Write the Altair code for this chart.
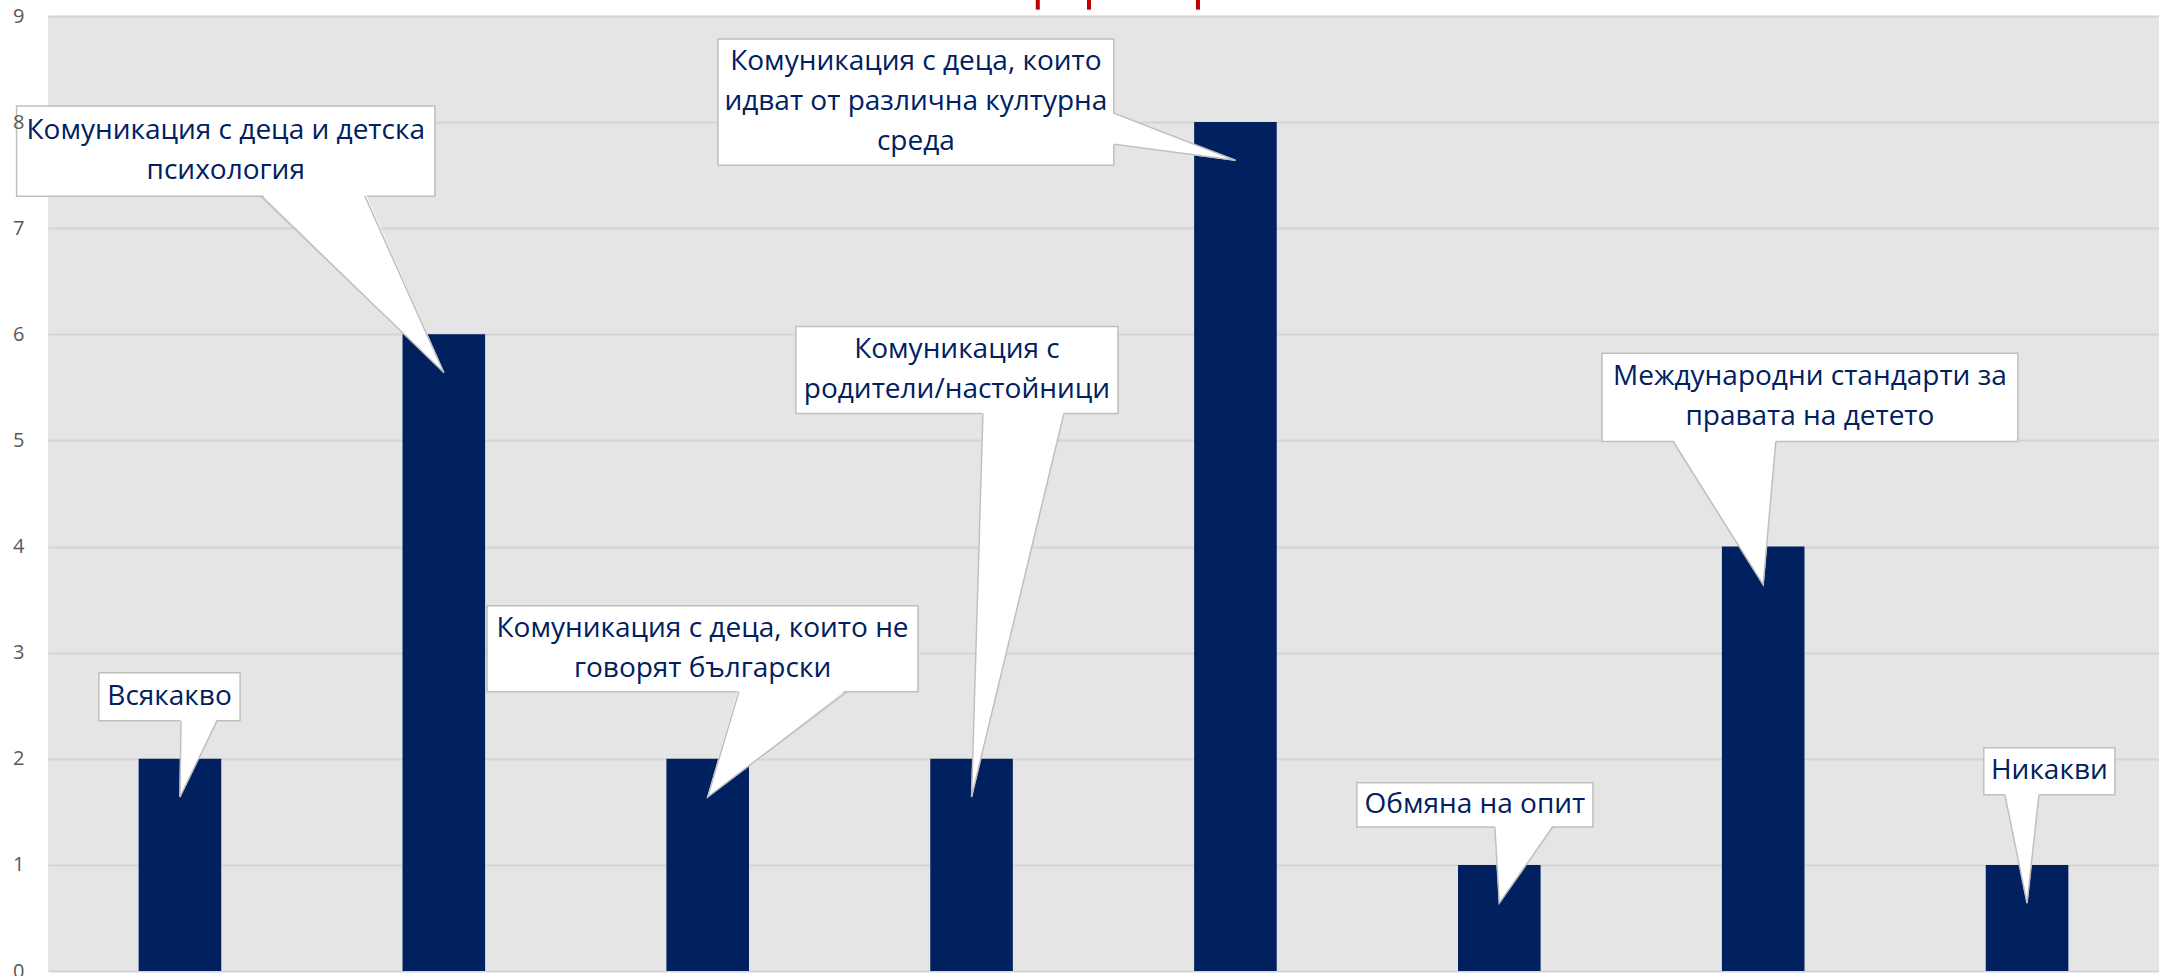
import altair as alt
import pandas as pd

# ---------------- data ----------------
categories = [
    "Всякакво",
    "Комуникация с деца и детска психология",
    "Комуникация с деца, които не говорят български",
    "Комуникация с родители/настойници",
    "Комуникация с деца, които идват от различна културна среда",
    "Обмяна на опит",
    "Международни стандарти за правата на детето",
    "Никакви",
]
values = [2, 6, 2, 2, 8, 1, 4, 1]
callout_text = [
    "Всякакво",
    "Комуникация с деца и детска\nпсихология",
    "Комуникация с деца, които не\nговорят български",
    "Комуникация с\nродители/настойници",
    "Комуникация с деца, които\nидват от различна културна\nсреда",
    "Обмяна на опит",
    "Международни стандарти за\nправата на детето",
    "Никакви",
]
y_ticks = [0, 1, 2, 3, 4, 5, 6, 7, 8, 9]

# ---------------- callout layout (in data units) ----------------
box_left = [0.193, -0.119, 1.664, 2.834, 2.539, 4.960, 5.889, 7.336]
box_right = [0.728, 1.466, 3.297, 4.055, 4.039, 5.855, 7.465, 7.833]
box_bottom = [2.358, 7.302, 2.632, 5.255, 7.594, 1.358, 4.991, 1.660]
box_top = [2.811, 8.151, 3.443, 6.075, 8.783, 1.774, 5.821, 2.104]
ptr_a = [(0.504, 2.358), (0.807, 7.302), (2.618, 2.632), (3.543, 5.255),
         (4.039, 8.085), (5.483, 1.358), (6.158, 4.991), (7.416, 1.660)]
ptr_b = [(0.641, 2.358), (1.201, 7.302), (3.028, 2.632), (3.850, 5.255),
         (4.039, 7.792), (5.703, 1.358), (6.548, 4.991), (7.545, 1.660)]
tip_drop = 0.36
bar_half = 0.1565
line_step = 0.375  # one text line, in y units
red_marks_x = [3.751, 3.945, 4.358]

NAVY = "#002060"
BORDER = "#BFBFBF"

# ---------------- tables ----------------
bars_df = pd.DataFrame({
    "category": categories,
    "value": values,
    "x0": [i + 0.5 - bar_half for i in range(len(values))],
    "x1": [i + 0.5 + bar_half for i in range(len(values))],
})

n_lines = [t.count("\n") + 1 for t in callout_text]
boxes_df = pd.DataFrame({
    "category": categories,
    "label": callout_text,
    "bx0": box_left, "bx1": box_right,
    "by0": box_bottom, "by1": box_top,
    "cx": [(a + b) / 2 for a, b in zip(box_left, box_right)],
    "cy": [(a + b) / 2 + (n - 1) / 2 * line_step
           for a, b, n in zip(box_bottom, box_top, n_lines)],
})

fill_rows, edge_rows = [], []
for i, v in enumerate(values):
    tip = (i + 0.5, v - tip_drop)
    a, b = ptr_a[i], ptr_b[i]

    def inward(p):
        x, y = p
        if abs(x - box_right[i]) < 1e-6:
            return (x - 0.012, y)
        if abs(x - box_left[i]) < 1e-6:
            return (x + 0.012, y)
        if abs(y - box_bottom[i]) < 1e-6:
            return (x, y + 0.03)
        return (x, y - 0.03)

    for k, p in enumerate([inward(a), tip, inward(b)]):
        fill_rows.append({"cid": i, "ord": k, "px": p[0], "py": p[1]})
    for k, p in enumerate([a, tip, b]):
        edge_rows.append({"cid": i, "ord": k, "px": p[0], "py": p[1]})
fill_df = pd.DataFrame(fill_rows)
edge_df = pd.DataFrame(edge_rows)

red_df = pd.DataFrame({"rx": red_marks_x, "ry0": [9.06] * 3, "ry1": [9.16] * 3})

# ---------------- scales ----------------
xs = alt.Scale(domain=[0, 8], nice=False, zero=False)
ys = alt.Scale(domain=[0, 9], nice=False, zero=True)

grid_axis = alt.Axis(grid=True, labels=False, ticks=False, domain=False,
                     values=y_ticks, gridColor="#D4D4D4", gridWidth=2,
                     orient="left", zindex=0, title=None)
label_axis = alt.Axis(grid=False, labels=True, ticks=False, domain=False,
                      values=y_ticks, labelFont="Open Sans", labelFontSize=20,
                      labelColor="#595959", labelPadding=24, orient="left",
                      zindex=1, title=None)

bars = alt.Chart(bars_df).mark_rect(color=NAVY).encode(
    x=alt.X("x0:Q", scale=xs, axis=None),
    x2="x1:Q",
    y=alt.Y("value:Q", scale=ys, axis=grid_axis),
    y2=alt.datum(0),
)

red = alt.Chart(red_df).mark_rule(color="#C00000", strokeWidth=4).encode(
    x=alt.X("rx:Q", scale=xs, axis=None),
    y=alt.Y("ry0:Q", scale=ys, axis=None),
    y2="ry1:Q",
)

boxes = alt.Chart(boxes_df).mark_rect(fill="white", stroke=BORDER, strokeWidth=1.5).encode(
    x=alt.X("bx0:Q", scale=xs, axis=None),
    x2="bx1:Q",
    y=alt.Y("by0:Q", scale=ys, axis=None),
    y2="by1:Q",
)

ptr_fill = alt.Chart(fill_df).mark_line(fill="white", stroke="white", strokeWidth=1).encode(
    x=alt.X("px:Q", scale=xs, axis=None),
    y=alt.Y("py:Q", scale=ys, axis=None),
    detail="cid:N",
    order="ord:Q",
)

ptr_edge = alt.Chart(edge_df).mark_line(stroke=BORDER, strokeWidth=1.5).encode(
    x=alt.X("px:Q", scale=xs, axis=None),
    y=alt.Y("py:Q", scale=ys, axis=None),
    detail="cid:N",
    order="ord:Q",
)

texts = alt.Chart(boxes_df).mark_text(
    font="Open Sans", fontSize=28, color=NAVY, lineBreak="\n",
    lineHeight=40, align="center", baseline="middle",
).encode(
    x=alt.X("cx:Q", scale=xs, axis=None),
    y=alt.Y("cy:Q", scale=ys, axis=label_axis),
    text="label:N",
)

chart = alt.layer(bars, red, boxes, ptr_fill, ptr_edge, texts).resolve_axis(
    y="independent"
).resolve_scale(y="shared", x="shared").properties(
    width=2111, height=955,
    autosize=alt.AutoSizeParams(type="none"),
    padding={"left": 48, "top": 16, "right": 0, "bottom": 5},
    background="white",
).configure_view(fill="#E5E5E5", strokeWidth=0)

chart.save("out.html", embed_options={"renderer": "svg", "actions": False})
